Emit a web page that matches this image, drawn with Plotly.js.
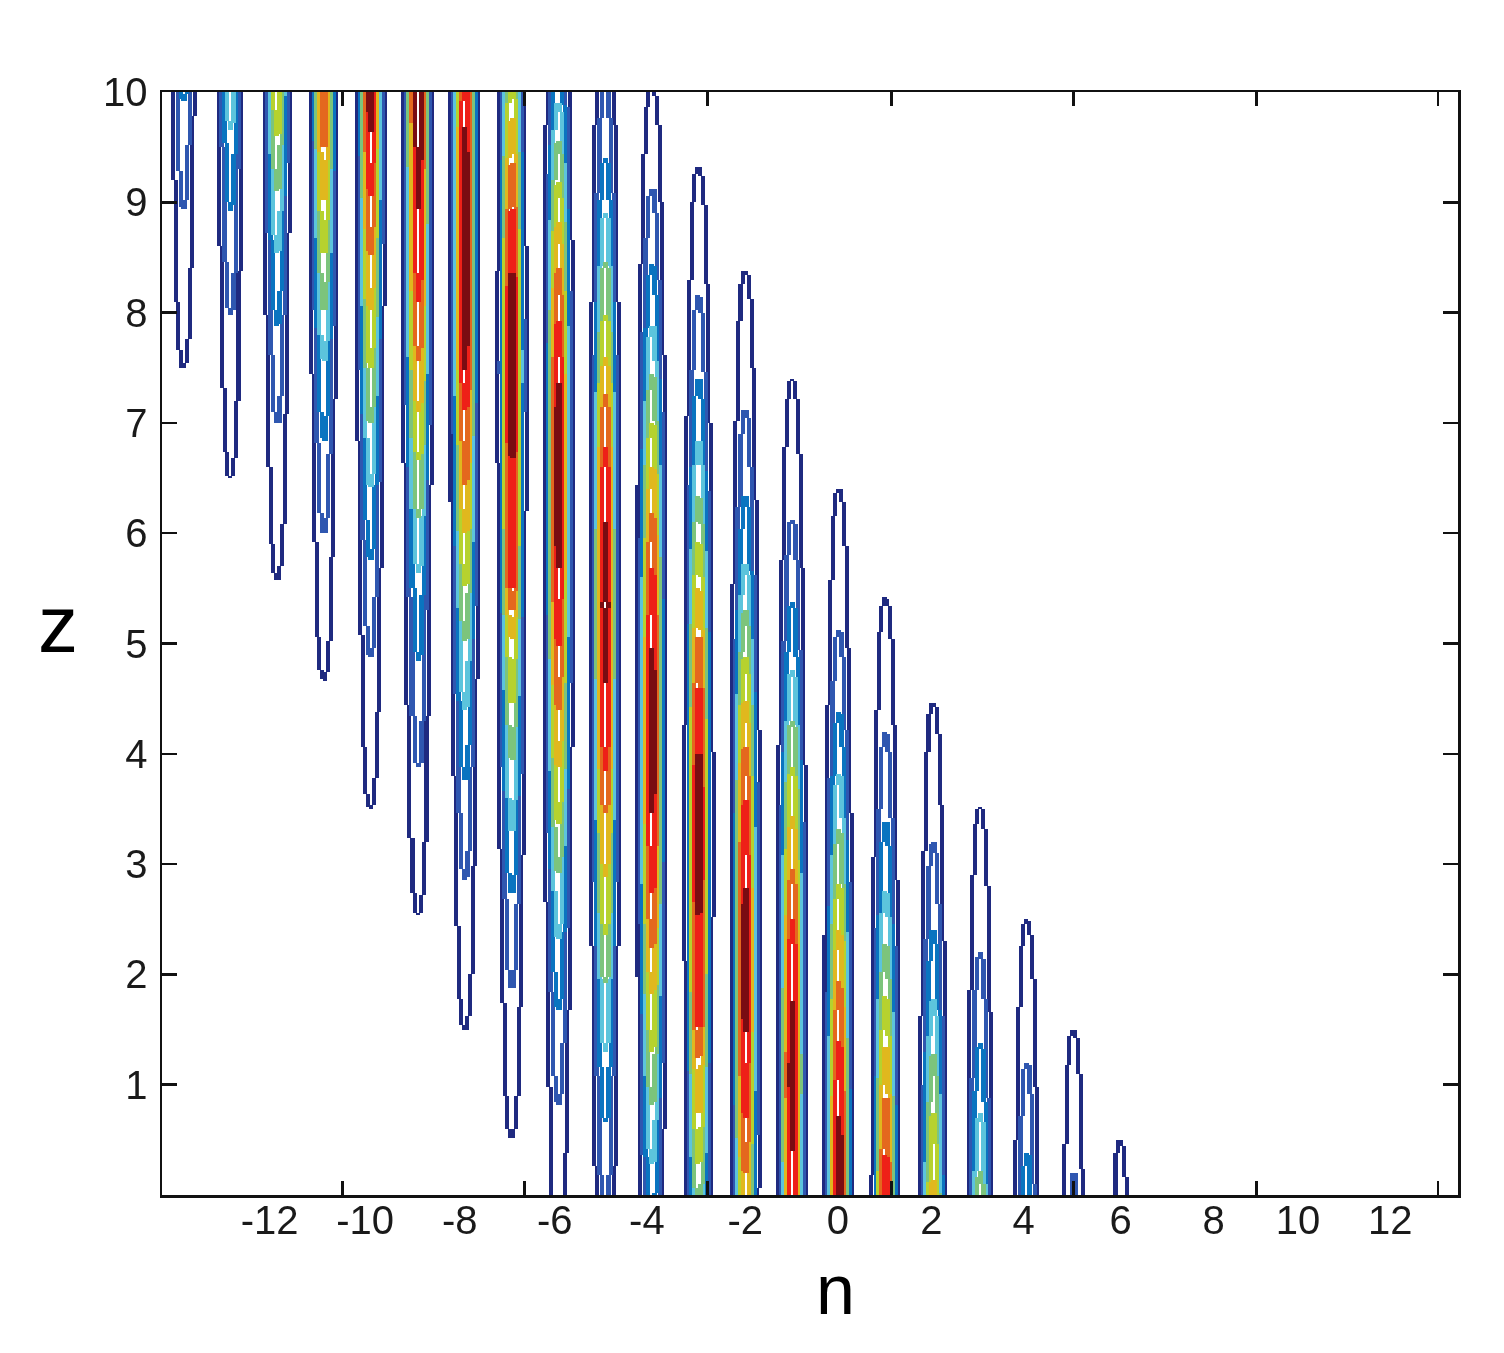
<!DOCTYPE html>
<html><head><meta charset="utf-8">
<script src="https://cdn.plot.ly/plotly-3.0.1.min.js"></script>
<style>html,body{margin:0;padding:0;background:#fff}#plot{width:1504px;height:1353px;filter:blur(0.6px)}</style>
</head><body><div id="plot"></div>
<script>
// Contour crossings: [z, contour level] going down each column n.
const col_m14=[[10.3,4],[9.93,3],[8.95,2],[7.5,1]];
const col_m13=[[10.3,5],[9.66,4],[8.93,3],[7.98,2],[6.5,1]];
const col_m12=[[10.1,7],[9.61,6],[9.11,5],[8.55,4],[7.89,3],[7.0,2],[5.58,1]];
const col_m11=[[10.2,9],[9.5,8],[9.02,7],[8.54,6],[8.02,5],[7.57,4],[6.85,3],[6.0,2],[4.67,1]];
const col_m10=[[10.2,10.3],[9.64,10],[9.07,9],[8.52,8],[8.02,7],[7.51,6],[7.0,5],[6.42,4],[5.76,3],[4.88,2],[3.51,1]];
const col_m9=[[10.3,10.8],[8.95,10],[8.1,9],[7.57,8],[7.1,7],[6.66,6],[6.15,5],[5.65,4],[4.85,3],[3.88,2],[2.54,1]];
const col_m8=[[10.2,9.2],[9.67,10],[8.6,10.3],[7.48,10],[7.13,9],[6.45,8],[6.0,7],[5.52,6],[5.03,5],[4.4,4],[3.76,3],[2.87,2],[1.5,1]];
const col_m7=[[10.2,6.2],[9.75,7],[9.35,8],[8.93,9],[8.37,10],[7.5,10.8],[6.69,10],[5.5,9],[5.3,8],[5.05,7],[4.46,6],[3.95,5],[3.3,4],[2.74,3],[1.88,2],[0.52,1]];
const col_m6=[[10.4,3.4],[9.9,4],[9.56,5],[9.17,6],[8.81,7],[8.39,8],[7.93,9],[7.36,10],[6.5,10.3],[5.68,10],[4.99,9],[4.4,8],[3.88,7],[3.37,6],[2.92,5],[2.33,4],[1.68,3],[0.83,2],[-0.5,1]];
const col_m5=[[11,1.3],[10.05,2],[9.4,3],[8.9,4],[8.46,5],[7.98,6],[7.59,7],[7.25,8],[6.78,9],[6.09,10],[5.35,10.3],[4.64,10],[3.85,9],[3.46,8],[2.88,7],[2.37,6],[1.92,5],[1.31,4],[0.66,3],[-0.2,2],[-1.5,1]];
const col_m4=[[10.05,1],[9.12,2],[8.43,3],[7.89,4],[7.43,5],[7.0,6],[6.6,7],[6.17,8],[5.67,9],[4.96,10],[4.2,10.3],[3.46,10],[2.74,9],[2.25,8],[1.83,7],[1.31,6],[0.83,5],[0.29,4],[-0.25,3],[-0.9,2],[-2,1]];
const col_m3=[[9.32,1],[8.15,2],[7.4,3],[6.85,4],[6.33,5],[5.91,6],[5.49,7],[5.06,8],[4.6,9],[4.0,10],[3.3,10.3],[2.55,10],[1.52,9],[1.25,8],[0.74,7],[0.29,6],[-0.2,5],[-0.7,4],[-1.2,3],[-1.8,2],[-3,1]];
const col_m2=[[8.38,1],[7.12,2],[6.35,3],[5.72,4],[5.3,5],[4.88,6],[4.47,7],[4.06,8],[3.58,9],[2.78,10],[2.1,10.3],[1.48,10],[0.71,9],[0.2,8],[-0.2,7],[-0.7,6],[-1.2,5],[-1.7,4],[-2.2,3],[-2.8,2],[-4,1]];
const col_m1=[[7.4,1],[6.12,2],[5.37,3],[4.76,4],[4.31,5],[3.88,6],[3.43,7],[2.95,8],[2.49,9],[1.75,10],[1.1,10.3],[0.41,10],[-0.2,9],[-0.6,8],[-1.1,7]];
const col_0=[[6.4,1],[5.12,2],[4.37,3],[3.82,4],[3.31,5],[2.81,6],[2.4,7],[1.93,8],[1.4,9],[0.71,10],[0.2,10.3],[-0.5,10]];
const col_1=[[5.41,1],[4.19,2],[3.38,3],[2.75,4],[2.27,5],[1.79,6],[1.34,7],[0.88,8],[0.35,9],[-0.1,9.6]];
const col_2=[[4.46,1],[3.19,2],[2.40,3],[1.77,4],[1.27,5],[0.74,6],[0.13,7],[-0.2,7.5]];
const col_3=[[3.52,1],[2.19,2],[1.38,3],[0.74,4],[0.21,5],[-0.2,5.7]];
const col_4=[[2.49,1],[1.2,2],[0.38,3],[-0.1,3.6]];
const col_5=[[1.5,1],[0.2,2],[-0.1,2.2]];
const col_6=[[0.5,1],[-0.1,1.4]];

const columnN=[-14,-13,-12,-11,-10,-9,-8,-7,-6,-5,-4,-3,-2,-1,0,1,2,3,4,5,6];
const columns=[col_m14,col_m13,col_m12,col_m11,col_m10,col_m9,col_m8,col_m7,col_m6,col_m5,col_m4,col_m3,col_m2,col_m1,col_0,col_1,col_2,col_3,col_4,col_5,col_6];

const levelColors=['#ffffff','#1f2a80','#2f57b0','#0a74c0','#5cc4dc','#7cc47c','#b6d22e','#e0b81e','#e4681e','#ee2018','#7a0c12'];
const yTicks=[1,2,3,4,5,6,7,8,9,10];
const xTickMarks=[-10.58,-6.69,-2.78,1.15,5.04,8.95,12.82];
const xLabelAt=[-12.14,-10.1,-8.08,-6.05,-4.08,-1.98,0,2.0,3.97,6.04,8.03,9.83,11.8];
const xLabels=['-12','-10','-8','-6','-4','-2','0','2','4','6','8','10','12'];

// Build the contour-line field on a fine grid from the crossings above.
const dx=0.0214, dz=0.02, x0=-14.44, nx=1000, nz=500;
const sigma=0.118, strokeOut=0.046, strokeIn=0.028, snap=0.058, shift=0.012;
const xs=[],zs=[];
for(let i=0;i<nx;i++)xs.push(x0+dx*(i+.5));
for(let j=0;j<nz;j++)zs.push(dz*(j+.5));
function level(tab,z){
  if(z>tab[0][0]||z<tab[tab.length-1][0])return 0;
  for(let i=1;i<tab.length;i++){
    if(z>=tab[i][0]){
      const t=(tab[i-1][0]-z)/(tab[i-1][0]-tab[i][0]);
      return tab[i-1][1]+t*(tab[i][1]-tab[i-1][1]);
    }
  }
  return tab[tab.length-1][1];
}
function paint(row,a,b,k){
  const i0=Math.max(0,Math.round((a-x0)/dx)),i1=Math.min(nx-1,Math.round((b-x0)/dx));
  for(let i=i0;i<=i1;i++)row[i]=k;
}
const field=zs.map(z=>{
  const row=new Array(nx).fill(0);
  columns.forEach((tab,c)=>{
    const p=level(tab,z);
    if(p<1)return;
    const cx=columnN[c]+shift;
    for(let k=1;k<=Math.min(10,Math.floor(p));k++){
      const d=sigma*Math.sqrt(2*Math.log((p-.55)/(k-.55)));
      const l=Math.round((cx-d)/snap)*snap, r=Math.round((cx+d)/snap)*snap;
      const o=k<=1?strokeOut*.8:strokeOut;
      paint(row,l-o,l+strokeIn,k);
      paint(row,r-strokeIn,r+o,k);
    }
  });
  return row;
});
const scale=[];
levelColors.forEach((c,i)=>{scale.push([i/11,c]);scale.push([(i+1)/11,c]);});

const fontFam='"Liberation Sans",Arial,sans-serif';
const tickFont={family:fontFam,size:40,color:'#1a1a1a'};
Plotly.newPlot('plot',[{type:'heatmap',x:xs,y:zs,z:field,zmin:-0.5,zmax:10.5,colorscale:scale,showscale:false,zsmooth:false,hoverinfo:'skip'}],{
  width:1504,height:1353,margin:{l:162,r:46,t:92,b:158},paper_bgcolor:'#fff',plot_bgcolor:'#fff',showlegend:false,
  xaxis:{range:[-14.44,13.25],tickmode:'array',tickvals:xLabelAt,ticktext:xLabels,ticks:'',tickfont:tickFont,ticklabelstandoff:-12,
    showgrid:false,zeroline:false,showline:true,linecolor:'#111',linewidth:2.5,mirror:'ticks',
    minor:{tickmode:'array',tickvals:xTickMarks,ticks:'inside',ticklen:14,tickwidth:2.5,tickcolor:'#111',showgrid:false}},
  yaxis:{range:[0,10],tickmode:'array',tickvals:yTicks,ticktext:yTicks.map(String),ticks:'inside',ticklen:15,tickwidth:2.5,tickcolor:'#111',tickfont:tickFont,ticklabelstandoff:4,
    showgrid:false,zeroline:false,showline:true,linecolor:'#111',linewidth:2.5,mirror:'ticks'},
  annotations:[
    {text:'z',xref:'paper',yref:'paper',x:(58-162)/1296,y:(1195-624)/1103,xanchor:'center',yanchor:'middle',showarrow:false,font:{family:fontFam,size:80,color:'#000'}},
    {text:'n',xref:'paper',yref:'paper',x:(835-162)/1296,y:(1195-1290)/1103,xanchor:'center',yanchor:'middle',showarrow:false,font:{family:fontFam,size:70,color:'#000'}}
  ]
},{displayModeBar:false,staticPlot:true});
</script></body></html>
